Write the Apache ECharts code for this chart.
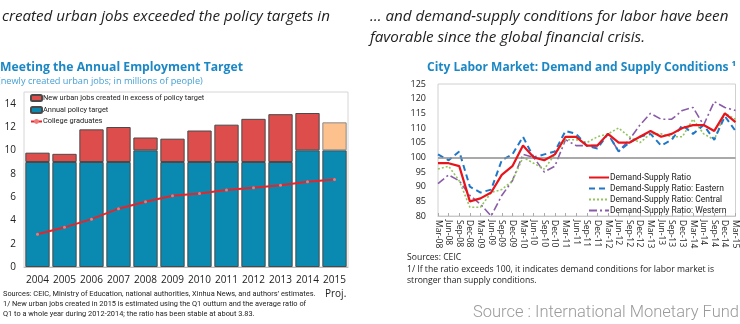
<!DOCTYPE html>
<html><head><meta charset="utf-8">
<script src="https://cdn.jsdelivr.net/npm/echarts@6/dist/echarts.min.js"></script>
<style>html,body{margin:0;padding:0;background:#fff}#c{width:740px;height:324px}</style>
</head><body><div id="c"></div>
<script>
// ---- Left chart data ----
const years = ['2004','2005','2006','2007','2008','2009','2010','2011','2012','2013','2014','2015'];
const policyTarget = [9,9,9,9,10,9,9,9,9,9,10,10];
const excessJobs = [0.8,0.7,2.8,3.0,1.1,2.0,2.7,3.2,3.7,4.1,3.2,2.4];
const collegeGrads = [2.8,3.4,4.1,5.0,5.6,6.1,6.3,6.6,6.8,7.0,7.3,7.5];
const projectedYears = ['2015'];

// ---- Right chart data ----
const quarters = ['Mar-08','Jun-08','Sep-08','Dec-08','Mar-09','Jun-09','Sep-09','Dec-09','Mar-10','Jun-10','Sep-10','Dec-10','Mar-11','Jun-11','Sep-11','Dec-11','Mar-12','Jun-12','Sep-12','Dec-12','Mar-13','Jun-13','Sep-13','Dec-13','Mar-14','Jun-14','Sep-14','Dec-14','Mar-15'];
const ratioAll =     [98,98,97,85,86,88,94,97,104,100,99,101,107,107,104,104,108,105,105,107,109,107,108,110,111,111,109,115,112];
const ratioEastern = [101,99,102,90,88,89,99,101,107,100,101,102,109,108,104,103,108,102,105,107,108,104,106,111,108,111,106,114,109];
const ratioCentral = [96,97,92,83,83,88,89,92,100,98,96,101,106,106,105,107,108,110,107,105,108,108,107,107,113,108,106,115,113];
const ratioWestern = [91,94,92,87,84,80,87,92,101,100,95,97,106,104,104,104,108,102,106,111,115,113,113,116,117,111,119,117,116];
const neutralLevel = 100;

const BLUE = '#0a8ab0', RED = '#dc4d4b', PEACH = '#fdc18e', EDGE = '#4a4a4a';
const TITLE = '#1b87c5';

const chart = echarts.init(document.getElementById('c'), null, {renderer:'canvas'});

function txt(x, y, s, style){
  return {type:'text', x:x, y:y, silent:true,
    style:Object.assign({text:s, fill:'#222', fontFamily:'Open Sans', fontSize:10, textVerticalAlign:'middle'}, style)};
}

const option = {
  animation:false,
  backgroundColor:'#fff',
  grid:[
    {left:24, top:92, width:324, height:175, show:true, borderColor:'#d6d6d6', borderWidth:1},
    {left:438, top:84, width:299, height:132, show:true, borderColor:'#d0d0d0', borderWidth:1}
  ],
  xAxis:[
    {gridIndex:0, type:'category', data:years,
      axisLine:{show:true, lineStyle:{color:'#bbb'}}, axisTick:{show:false},
      axisLabel:{interval:0, color:'#222', fontSize:10, fontFamily:'Open Sans', margin:8}},
    {gridIndex:1, type:'category', data:quarters, boundaryGap:false,
      axisLine:{show:true, lineStyle:{color:'#c8c8c8'}},
      axisTick:{show:true, inside:true, length:3, interval:0, lineStyle:{color:'#aaa'}},
      axisLabel:{rotate:-90, interval:0, color:'#222', fontSize:8.5, fontFamily:'Open Sans', margin:4}}
  ],
  yAxis:[
    {gridIndex:0, type:'value', min:0, max:15, interval:2,
      axisLine:{show:false}, axisTick:{show:false}, splitLine:{show:false},
      axisLabel:{color:'#222', fontSize:10, fontFamily:'Open Sans', margin:8, showMaxLabel:false}},
    {gridIndex:1, type:'value', min:80, max:125, interval:5,
      axisLine:{show:false}, axisTick:{show:false}, splitLine:{show:false},
      axisLabel:{color:'#222', fontSize:9, fontFamily:'Open Sans', margin:12}}
  ],
  legend:[
    {orient:'vertical', left:25, top:89, itemWidth:11, itemHeight:6, itemGap:4,
      textStyle:{fontSize:7.4, color:'#222', fontFamily:'Roboto', padding:[0,0,0,-4]},
      data:['New urban jobs created in excess of policy target','Annual policy target','College graduates']},
    {orient:'vertical', left:583, top:168, itemWidth:20, itemHeight:10, itemGap:2,
      itemStyle:{opacity:0},
      textStyle:{fontSize:8.5, color:'#222', fontFamily:'Roboto', padding:[0,0,0,-4]},
      data:['Demand-Supply Ratio','Demand-Supply Ratio: Eastern','Demand-Supply Ratio: Central','Demand-Supply Ratio: Western']}
  ],
  series:[
    {name:'Annual policy target', type:'bar', stack:'jobs', xAxisIndex:0, yAxisIndex:0,
      data:policyTarget, barCategoryGap:'10%',
      itemStyle:{color:BLUE, borderColor:EDGE, borderWidth:1}},
    {name:'New urban jobs created in excess of policy target', type:'bar', stack:'jobs', xAxisIndex:0, yAxisIndex:0,
      data:excessJobs.map((v,i)=> projectedYears.includes(years[i]) ? {value:v, itemStyle:{color:PEACH, borderColor:'#888'}} : v),
      itemStyle:{color:RED, borderColor:EDGE, borderWidth:1}},
    {name:'College graduates', type:'line', xAxisIndex:0, yAxisIndex:0, data:collegeGrads,
      symbol:'circle', symbolSize:3, lineStyle:{color:'#e8242a', width:2},
      itemStyle:{color:'#f07a7a', borderWidth:0}, z:5},

    {name:'Demand-Supply Ratio: Western', type:'line', xAxisIndex:1, yAxisIndex:1, data:ratioWestern,
      symbol:'none', lineStyle:{color:'#8a5ca8', width:1.6, type:[8,3,2,3]}, itemStyle:{color:'#8a5ca8'}},
    {name:'Demand-Supply Ratio: Central', type:'line', xAxisIndex:1, yAxisIndex:1, data:ratioCentral,
      symbol:'none', lineStyle:{color:'#92c55e', width:1.6, type:[2,2]}, itemStyle:{color:'#92c55e'}},
    {name:'Demand-Supply Ratio: Eastern', type:'line', xAxisIndex:1, yAxisIndex:1, data:ratioEastern,
      symbol:'none', lineStyle:{color:'#1f77c9', width:2, type:[6,4]}, itemStyle:{color:'#1f77c9'}},
    {name:'Demand-Supply Ratio', type:'line', xAxisIndex:1, yAxisIndex:1, data:ratioAll,
      symbol:'none', lineStyle:{color:'#e8141b', width:2.2}, itemStyle:{color:'#e8141b'}, z:6,
      markLine:{silent:true, symbol:'none', label:{show:false},
        lineStyle:{color:'#8c8c8c', width:1.5, type:'solid'}, data:[{yAxis:neutralLevel}]}}
  ],
  graphic:[
    txt(2, 17, 'created urban jobs exceeded the policy targets in', {fontStyle:'italic', fontSize:15.2}),
    txt(370, 17, '… and demand-supply conditions for labor have been', {fontStyle:'italic', fontSize:15.2}),
    txt(370, 38, 'favorable since the global financial crisis.', {fontStyle:'italic', fontSize:15.2}),
    txt(0, 68, 'Meeting the Annual Employment Target', {fontWeight:'bold', fontSize:12.2, fill:TITLE}),
    txt(-2, 81, '(newly created urban jobs; in millions of people)', {fontSize:9.2, fill:'#45a0d4'}),
    txt(325, 294, 'Proj.', {fontSize:10}),
    txt(3, 294, 'Sources: CEIC, Ministry of Education, national authorities, Xinhua News, and authors\u2019 estimates.', {fontSize:7.4, fontFamily:'Roboto'}),
    txt(3, 304, '1/ New urban jobs created in 2015 is estimated using the Q1 outturn and the average ratio of', {fontSize:7.4, fontFamily:'Roboto'}),
    txt(3, 314, 'Q1 to a whole year during 2012-2014; the ratio has been stable at about 3.83.', {fontSize:7.4, fontFamily:'Roboto'}),
    txt(427, 68, 'City Labor Market: Demand and Supply Conditions \u00b9', {fontWeight:'bold', fontSize:12, fill:TITLE}),
    txt(407, 258, 'Sources: CEIC', {fontSize:8.6}),
    txt(407, 270, '1/ If the ratio exceeds 100, it indicates demand conditions for labor market is', {fontSize:8.6}),
    txt(407, 281, 'stronger than supply conditions.', {fontSize:8.6}),
    txt(473, 313, 'Source : International Monetary Fund', {fontSize:16.5, fontFamily:'Roboto', fontWeight:300, fill:'#9a9a9a'})
  ]
};
chart.setOption(option);
</script></body></html>
